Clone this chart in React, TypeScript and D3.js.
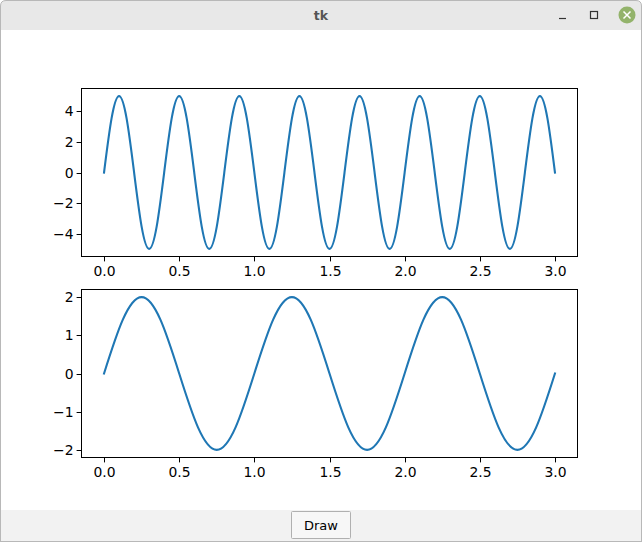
import * as d3 from "d3";

const xTop = [
  0, 0.05, 0.1, 0.15, 0.2, 0.25, 0.3, 0.35, 0.4, 0.45, 0.5, 0.55, 0.6, 0.65, 0.7, 0.75,
  0.8, 0.85, 0.9, 0.95, 1.0, 1.05, 1.1, 1.15, 1.2, 1.25, 1.3, 1.35, 1.4, 1.45, 1.5, 1.55,
  1.6, 1.65, 1.7, 1.75, 1.8, 1.85, 1.9, 1.95, 2.0, 2.05, 2.1, 2.15, 2.2, 2.25, 2.3, 2.35,
  2.4, 2.45, 2.5, 2.55, 2.6, 2.65, 2.7, 2.75, 2.8, 2.85, 2.9, 2.95, 3.0,
];
const yTop = [
  0, 3.54, 5, 3.54, 0, -3.54, -5, -3.54, 0, 3.54, 5, 3.54, 0, -3.54, -5, -3.54,
  0, 3.54, 5, 3.54, 0, -3.54, -5, -3.54, 0, 3.54, 5, 3.54, 0, -3.54, -5, -3.54,
  0, 3.54, 5, 3.54, 0, -3.54, -5, -3.54, 0, 3.54, 5, 3.54, 0, -3.54, -5, -3.54,
  0, 3.54, 5, 3.54, 0, -3.54, -5, -3.54, 0, 3.54, 5, 3.54, 0,
];
const xBottom = [
  0, 0.125, 0.25, 0.375, 0.5, 0.625, 0.75, 0.875, 1.0, 1.125, 1.25, 1.375, 1.5,
  1.625, 1.75, 1.875, 2.0, 2.125, 2.25, 2.375, 2.5, 2.625, 2.75, 2.875, 3.0,
];
const yBottom = [
  0, 1.41, 2, 1.41, 0, -1.41, -2, -1.41, 0, 1.41, 2, 1.41, 0,
  -1.41, -2, -1.41, 0, 1.41, 2, 1.41, 0, -1.41, -2, -1.41, 0,
];
const xTicks = [0, 0.5, 1.0, 1.5, 2.0, 2.5, 3.0];
const yTicksTop = [-4, -2, 0, 2, 4];
const yTicksBottom = [-2, -1, 0, 1, 2];

const W = 642;
const H = 542;
const font = "'DejaVu Sans', sans-serif";
const fs = 13.9;
const fmt = (v: number) => (v < 0 ? "\u2212" + Math.abs(v) : String(v));

interface PanelProps {
  xs: number[];
  ys: number[];
  yTicks: number[];
  yMax: number;
  top: number;
  bottom: number;
}

function Panel({ xs, ys, yTicks, yMax, top, bottom }: PanelProps) {
  const left = 81.5;
  const right = 577.5;
  const x = d3.scaleLinear().domain([-0.15, 3.15]).range([left, right]);
  const pad = yMax * 0.1;
  const y = d3.scaleLinear().domain([-yMax - pad, yMax + pad]).range([bottom, top]);
  const line = d3
    .line<number>()
    .x((_, i) => x(xs[i]))
    .y((d) => y(d))
    .curve(d3.curveNatural);

  return (
    <g>
      <path d={line(ys) ?? undefined} fill="none" stroke="#1f77b4" strokeWidth={2.1} strokeLinecap="square" />
      <rect x={left} y={top} width={right - left} height={bottom - top} fill="none" stroke="#000" strokeWidth={1} />
      {xTicks.map((t) => (
        <g key={"x" + t} transform={`translate(${Math.round(x(t)) + 0.5},${bottom})`}>
          <line y2={4.9} stroke="#000" strokeWidth={1} />
          <text y={19} textAnchor="middle" fontFamily={font} fontSize={fs} fill="#000">
            {t.toFixed(1)}
          </text>
        </g>
      ))}
      {yTicks.map((t) => (
        <g key={"y" + t} transform={`translate(${left},${Math.round(y(t)) + 0.5})`}>
          <line x2={-4.9} stroke="#000" strokeWidth={1} />
          <text x={-8} dy="0.35em" textAnchor="end" fontFamily={font} fontSize={fs} fill="#000">
            {fmt(t)}
          </text>
        </g>
      ))}
    </g>
  );
}

export default function App() {
  return (
    <svg
      width={W}
      height={H}
      style={{ position: "absolute", left: 0, top: 0, display: "block" }}
    >
      <rect x={0} y={0} width={W} height={H} fill="#fff" />
      {/* title bar */}
      <path d={`M0.5,${H} V6 Q0.5,0.5 6,0.5 H${W - 6} Q${W - 0.5},0.5 ${W - 0.5},6 V${H}`} fill="#e8e8e8" stroke="#b8b8b8" />
      <rect x={1} y={30} width={W - 2} height={480} fill="#fff" />
      <text x={321} y={19.5} textAnchor="middle" fontFamily={font} fontSize={12.5} fontWeight="bold" fill="#555">
        tk
      </text>
      <line x1={559} x2={566} y1={18.5} y2={18.5} stroke="#333" strokeWidth={1.2} />
      <rect x={590.5} y={11.5} width={7} height={7} fill="none" stroke="#333" strokeWidth={1.2} />
      <circle cx={627} cy={15} r={8.5} fill="#93b36b" />
      <path d="M623.5,11.5 L630.5,18.5 M630.5,11.5 L623.5,18.5" stroke="#fff" strokeWidth={1.5} />
      {/* bottom bar */}
      <rect x={1} y={510} width={W - 2} height={31} fill="#f2f2f2" />
      <line x1={0} x2={W} y1={H - 0.5} y2={H - 0.5} stroke="#b8b8b8" />
      <rect x={291.5} y={511.5} width={59} height={27} fill="#f7f7f7" stroke="#b0b0b0" rx={1} />
      <text x={321} y={530} textAnchor="middle" fontFamily={font} fontSize={13} fill="#000">
        Draw
      </text>
      <Panel xs={xTop} ys={yTop} yTicks={yTicksTop} yMax={5} top={88.5} bottom={256.5} />
      <Panel xs={xBottom} ys={yBottom} yTicks={yTicksBottom} yMax={2} top={289.5} bottom={457.5} />
    </svg>
  );
}
